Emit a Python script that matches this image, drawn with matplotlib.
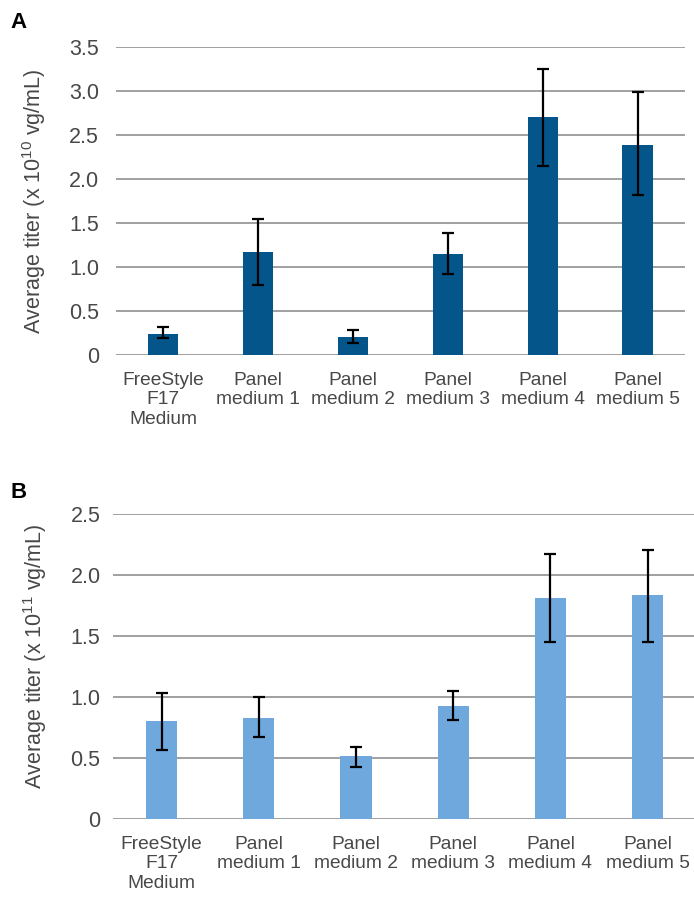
import numpy as np
import matplotlib
matplotlib.use("Agg")
import matplotlib.pyplot as plt
from matplotlib.ticker import FuncFormatter

plt.rcParams['font.family'] = ['Liberation Sans', 'DejaVu Sans']
plt.rcParams['mathtext.default'] = 'regular'

categories = ["FreeStyle\nF17\nMedium", "Panel\nmedium 1", "Panel\nmedium 2",
              "Panel\nmedium 3", "Panel\nmedium 4", "Panel\nmedium 5"]

# panel A (x 10^10 vg/mL)
a_vals = [0.24, 1.17, 0.21, 1.15, 2.70, 2.39]
a_low = [0.19, 0.80, 0.14, 0.92, 2.15, 1.82]
a_high = [0.32, 1.54, 0.29, 1.39, 3.25, 2.99]

# panel B (x 10^11 vg/mL)
b_vals = [0.80, 0.83, 0.52, 0.93, 1.81, 1.84]
b_low = [0.57, 0.67, 0.43, 0.81, 1.45, 1.45]
b_high = [1.03, 1.00, 0.59, 1.05, 2.17, 2.21]

text_col = '#484848'
grid_col = '#999999'


def fmt(v, pos):
    return "0" if abs(v) < 1e-9 else "%.1f" % v


def draw(ax, vals, low, high, color, ymax, ylabel, ypad):
    x = np.arange(len(categories))
    vals = np.array(vals)
    err = [vals - np.array(low), np.array(high) - vals]
    ax.bar(x, vals, width=0.32, color=color, zorder=3)
    ax.errorbar(x, vals, yerr=err, fmt='none', ecolor='black', elinewidth=1.6,
                capsize=4, capthick=1.6, zorder=4)
    ax.set_xlim(-0.5, len(categories) - 0.5)
    ax.set_ylim(0, ymax)
    ax.set_yticks(np.arange(0, ymax + 0.01, 0.5))
    ax.yaxis.set_major_formatter(FuncFormatter(fmt))
    ax.grid(axis='y', color=grid_col, linewidth=1.3, zorder=0)
    ax.set_axisbelow(True)
    for s in ax.spines.values():
        s.set_visible(False)
    ax.tick_params(axis='both', length=0, colors=text_col)
    ax.tick_params(axis='y', pad=ypad, labelsize=15.5)
    ax.tick_params(axis='x', pad=12, labelsize=13.8)
    ax.set_xticks(x)
    ax.set_xticklabels(categories, linespacing=1.2)
    ax.set_ylabel(ylabel, fontsize=15.5, color=text_col)


fig = plt.figure(figsize=(6.94, 8.99), dpi=100)
axA = fig.add_axes([0.167, 0.605, 0.820, 0.343])
axB = fig.add_axes([0.163, 0.089, 0.840, 0.339])

draw(axA, a_vals, a_low, a_high, '#03558a', 3.5,
     "Average titer (x 10$^{10}$ vg/mL)", 12)
draw(axB, b_vals, b_low, b_high, '#6fa8dc', 2.5,
     "Average titer (x 10$^{11}$ vg/mL)", 9)

axA.yaxis.set_label_coords(-0.12, 0.5)
axB.yaxis.set_label_coords(-0.11, 0.535)

fig.text(0.015, 0.975, "A", fontsize=16, fontweight='bold', color='black', va='center')
fig.text(0.015, 0.452, "B", fontsize=16, fontweight='bold', color='black', va='center')

fig.savefig("out.png", dpi=100)
